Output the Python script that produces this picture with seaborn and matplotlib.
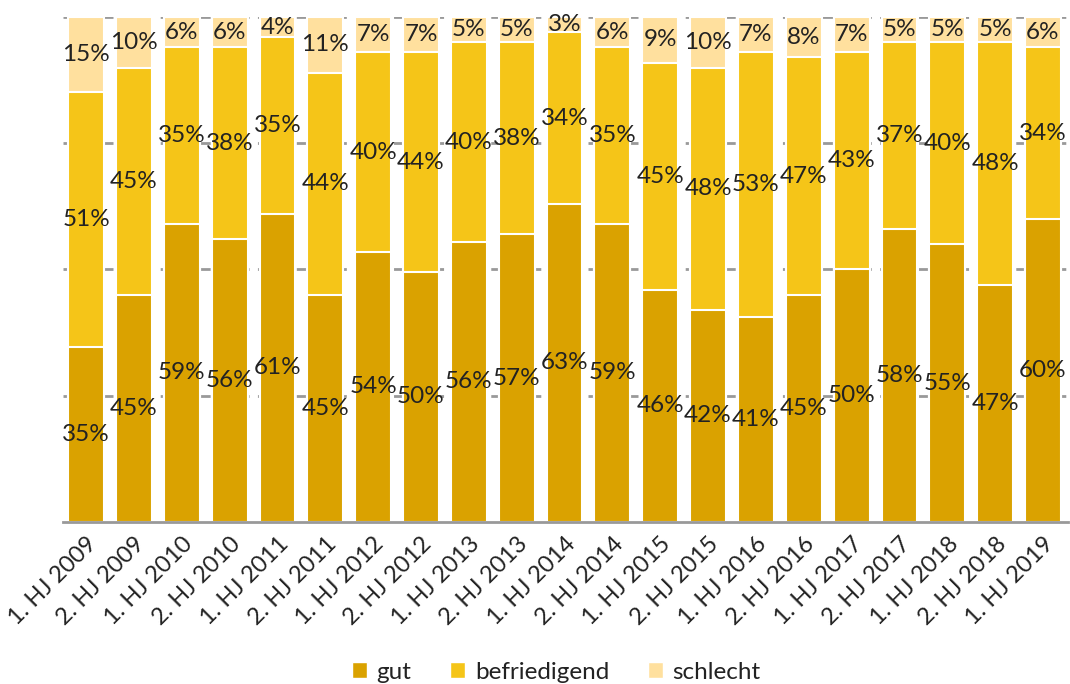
import numpy as np
import pandas as pd
import matplotlib
matplotlib.use("Agg")
import matplotlib.pyplot as plt
from matplotlib.patches import Patch
import seaborn as sns

perioden = ["1. HJ 2009", "2. HJ 2009", "1. HJ 2010", "2. HJ 2010", "1. HJ 2011",
            "2. HJ 2011", "1. HJ 2012", "2. HJ 2012", "1. HJ 2013", "2. HJ 2013",
            "1. HJ 2014", "2. HJ 2014", "1. HJ 2015", "2. HJ 2015", "1. HJ 2016",
            "2. HJ 2016", "1. HJ 2017", "2. HJ 2017", "1. HJ 2018", "2. HJ 2018",
            "1. HJ 2019"]
gut = [35, 45, 59, 56, 61, 45, 54, 50, 56, 57, 63, 59, 46, 42, 41, 45, 50, 58, 55, 47, 60]
befriedigend = [51, 45, 35, 38, 35, 44, 40, 44, 40, 38, 34, 35, 45, 48, 53, 47, 43, 37, 40, 48, 34]
schlecht = [15, 10, 6, 6, 4, 11, 7, 7, 5, 5, 3, 6, 9, 10, 7, 8, 7, 5, 5, 5, 6]

farben = {"gut": "#DAA200", "befriedigend": "#F5C518", "schlecht": "#FFE09E"}

sns.set_style("white")
plt.rcParams["font.family"] = ["Lato", "DejaVu Sans"]

df = pd.DataFrame({"periode": perioden, "gut": gut,
                   "befriedigend": befriedigend, "schlecht": schlecht})
summe = df[["gut", "befriedigend", "schlecht"]].sum(axis=1)
# 100%-gestapelt: Anteile normieren
for k in ["gut", "befriedigend", "schlecht"]:
    df[k + "_n"] = df[k] / summe * 100
df["c1"] = df["gut_n"]
df["c2"] = df["gut_n"] + df["befriedigend_n"]
df["c3"] = df["c2"] + df["schlecht_n"]

fig = plt.figure(figsize=(10.7, 6.84), dpi=100)
ax = fig.add_axes([0.059, 0.237, 0.939, 0.738])

for y in [25, 50, 75, 100]:
    ax.axhline(y, color="#999999", lw=2, ls=(0, (4, 3)), zorder=0)

# Schichten von hinten nach vorne
sns.barplot(data=df, x="periode", y="c3", color=farben["schlecht"], width=0.75,
            edgecolor="white", linewidth=1.5, saturation=1, ax=ax, zorder=2)
sns.barplot(data=df, x="periode", y="c2", color=farben["befriedigend"], width=0.75,
            edgecolor="white", linewidth=1.5, saturation=1, ax=ax, zorder=3)
sns.barplot(data=df, x="periode", y="c1", color=farben["gut"], width=0.75,
            edgecolor="white", linewidth=1.5, saturation=1, ax=ax, zorder=4)

for i, r in df.iterrows():
    for wert, unten, hoehe in [(r["gut"], 0, r["gut_n"]),
                               (r["befriedigend"], r["c1"], r["befriedigend_n"]),
                               (r["schlecht"], r["c2"], r["schlecht_n"])]:
        ax.text(i, unten + hoehe / 2, "%d%%" % wert, ha="center", va="center",
                fontsize=17.5, color="#222222", zorder=6)

ax.set_xlim(-0.48, len(perioden) - 0.48)
ax.set_ylim(0, 100)
ax.set_yticks([])
ax.set_xlabel("")
ax.set_ylabel("")
ax.tick_params(axis="x", length=0, pad=8)
plt.setp(ax.get_xticklabels(), rotation=45, ha="right", rotation_mode="anchor",
         fontsize=17, color="#222222")
for s in ["left", "right", "top"]:
    ax.spines[s].set_visible(False)
ax.spines["bottom"].set_color("#999999")
ax.spines["bottom"].set_linewidth(2)
ax.spines["bottom"].set_zorder(7)

griffe = [Patch(facecolor=farben[k], label=k) for k in ["gut", "befriedigend", "schlecht"]]
fig.legend(handles=griffe, loc="lower center", bbox_to_anchor=(0.52, -0.03), ncol=3,
           frameon=False, fontsize=17.5, handlelength=0.6, handleheight=0.6,
           handletextpad=0.4, columnspacing=1.6, labelcolor="#222222")

fig.savefig("out.png", dpi=100)
